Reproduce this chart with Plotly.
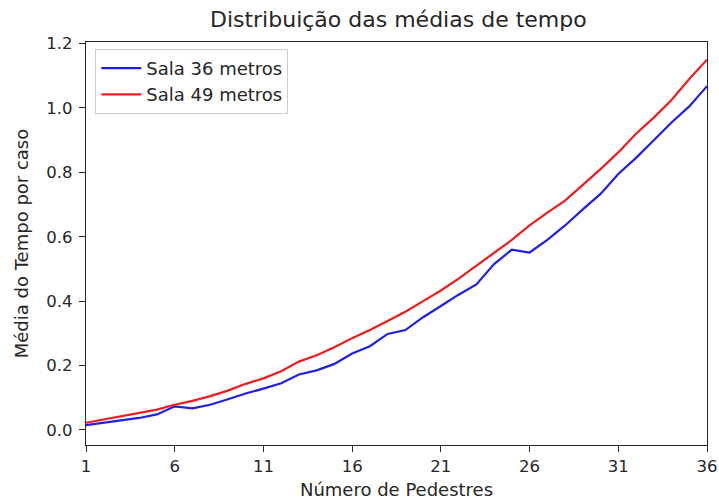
import plotly.graph_objects as go

# Número de pedestres simulados
pedestres = list(range(1, 37))

# Tempo médio por caso, sala de 36 m²
sala_36 = [0.015, 0.022, 0.030, 0.037, 0.048, 0.073, 0.067, 0.078, 0.095, 0.113,
           0.128, 0.145, 0.172, 0.185, 0.205, 0.237, 0.260, 0.298, 0.310, 0.350,
           0.385, 0.420, 0.452, 0.515, 0.560, 0.551, 0.590, 0.635, 0.685, 0.733,
           0.795, 0.845, 0.900, 0.955, 1.005, 1.068]

# Tempo médio por caso, sala de 49 m²
sala_49 = [0.022, 0.032, 0.043, 0.053, 0.063, 0.078, 0.090, 0.105, 0.122, 0.143,
           0.160, 0.182, 0.212, 0.232, 0.257, 0.285, 0.310, 0.338, 0.367, 0.400,
           0.433, 0.470, 0.510, 0.550, 0.590, 0.635, 0.675, 0.712, 0.760, 0.810,
           0.862, 0.920, 0.970, 1.025, 1.090, 1.150]

x_ticks = [1, 6, 11, 16, 21, 26, 31, 36]
y_ticks = [0.0, 0.2, 0.4, 0.6, 0.8, 1.0, 1.2]

font_family = "DejaVu Sans, sans-serif"
ink = "#262626"

fig = go.Figure()
fig.add_trace(go.Scatter(x=pedestres, y=sala_36, mode="lines", name="Sala 36 metros",
                         line=dict(color="#1f1fe6", width=2.2)))
fig.add_trace(go.Scatter(x=pedestres, y=sala_49, mode="lines", name="Sala 49 metros",
                         line=dict(color="#f01c1c", width=2.2)))

axis_common = dict(showgrid=False, zeroline=False, showline=True, linecolor=ink,
                   linewidth=1.3, mirror=True, ticks="outside", ticklen=6, tickwidth=1.3,
                   tickcolor=ink, ticklabeloverflow="allow", automargin=False,
                   tickfont=dict(size=16.5, color=ink, family=font_family))

fig.update_xaxes(range=[1, 36], tickvals=x_ticks, ticklabelstandoff=0,
                 title=dict(text="Número de Pedestres", standoff=8,
                            font=dict(size=18, color=ink, family=font_family)),
                 **axis_common)
fig.update_yaxes(range=[-0.047, 1.205], tickvals=y_ticks, tickformat=".1f",
                 ticklabelstandoff=3,
                 title=dict(text="Média do Tempo por caso", standoff=12,
                            font=dict(size=18, color=ink, family=font_family)),
                 **axis_common)

fig.update_layout(
    width=719, height=503,
    margin=dict(l=86, r=12, t=42, b=58, autoexpand=False),
    paper_bgcolor="white", plot_bgcolor="white",
    title=dict(text="Distribuição das médias de tempo", x=0.554, xanchor="center",
               y=0.962, yanchor="middle",
               font=dict(size=22, color=ink, family=font_family)),
    legend=dict(x=0.015, y=0.983, xanchor="left", yanchor="top",
                bgcolor="rgba(255,255,255,0.9)", bordercolor="#cccccc", borderwidth=1,
                font=dict(size=18, color=ink, family=font_family),
                itemwidth=40),
    showlegend=True,
)

fig.write_html("out.html")
